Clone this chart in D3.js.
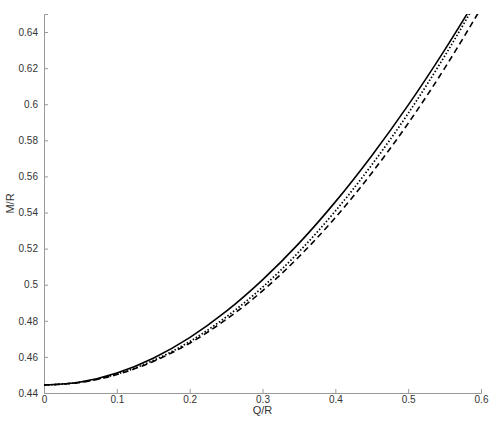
<!DOCTYPE html>
<html>
<head>
<meta charset="utf-8">
<script src="https://cdn.jsdelivr.net/npm/d3@7"></script>
<style>
  body { margin: 0; background: #fff; }
  svg text { font-family: "Liberation Sans", Arial, sans-serif; fill: #333; }
</style>
</head>
<body>
<svg id="chart"></svg>
<script>
let qValues = [0, 0.05, 0.1, 0.15, 0.2, 0.25, 0.3, 0.35, 0.4, 0.45, 0.5, 0.55, 0.6]
let solidValues = [0.4444, 0.4461, 0.4511, 0.4593, 0.4707, 0.4852, 0.5027, 0.5229, 0.5459, 0.5715, 0.5995, 0.6300, 0.6627]
let dottedValues = [0.4444, 0.4460, 0.4505, 0.4580, 0.4685, 0.4821, 0.4986, 0.5182, 0.5408, 0.5664, 0.5949, 0.6266, 0.6612]
let dashedValues = [0.4444, 0.4459, 0.4502, 0.4575, 0.4676, 0.4807, 0.4966, 0.5155, 0.5372, 0.5619, 0.5894, 0.6199, 0.6532]
let xTicks = [0, 0.1, 0.2, 0.3, 0.4, 0.5, 0.6]
let yTicks = [0.44, 0.46, 0.48, 0.5, 0.52, 0.54, 0.56, 0.58, 0.6, 0.62, 0.64]

window.addEventListener('DOMContentLoaded', () => {
  let width = 498
  let height = 425
  let margin = { left: 44, right: 17, top: 14, bottom: 32 }

  let svg = d3.select('#chart')
    .attr('width', width)
    .attr('height', height)

  let x = d3.scaleLinear()
    .domain([0, 0.6])
    .range([margin.left, width - margin.right])

  let y = d3.scaleLinear()
    .domain([0.44, 0.65])
    .range([height - margin.bottom, margin.top])

  svg.append('clipPath')
      .attr('id', 'plot-clip')
    .append('rect')
      .attr('x', margin.left)
      .attr('y', margin.top)
      .attr('width', width - margin.left - margin.right)
      .attr('height', height - margin.top - margin.bottom)

  let xAxis = svg.append('g')
    .attr('transform', `translate(0, ${height - margin.bottom})`)
    .call(d3.axisBottom(x).tickValues(xTicks).tickSize(-4).tickPadding(3).tickFormat(d3.format('')))

  let yAxis = svg.append('g')
    .attr('transform', `translate(${margin.left}, 0)`)
    .call(d3.axisLeft(y).tickValues(yTicks).tickSize(-4).tickPadding(6).tickFormat(d3.format('')))

  ;[xAxis, yAxis].forEach(g => {
    g.select('.domain').attr('stroke', '#999').attr('stroke-width', 1)
    g.selectAll('.tick line').attr('stroke', '#999')
    g.selectAll('.tick text').attr('font-size', 10).attr('fill', '#333')
  })

  svg.append('text')
    .attr('x', (margin.left + width - margin.right) / 2)
    .attr('y', height - 11)
    .attr('text-anchor', 'middle')
    .attr('font-size', 11)
    .text('Q/R')

  svg.append('text')
    .attr('transform', `translate(14, ${(margin.top + height - margin.bottom) / 2}) rotate(-90)`)
    .attr('text-anchor', 'middle')
    .attr('font-size', 11)
    .text('M/R')

  let series = [
    { values: solidValues, dash: null, width: 1.6 },
    { values: dottedValues, dash: '1.5,2', width: 1.7 },
    { values: dashedValues, dash: '6,4', width: 1.6 }
  ]

  let line = d3.line()
    .x(d => x(d[0]))
    .y(d => y(d[1]))
    .curve(d3.curveMonotoneX)

  svg.append('g')
      .attr('clip-path', 'url(#plot-clip)')
    .selectAll('path')
    .data(series)
    .enter()
    .append('path')
      .attr('fill', 'none')
      .attr('stroke', '#000')
      .attr('stroke-width', d => d.width)
      .attr('stroke-dasharray', d => d.dash)
      .attr('d', d => line(qValues.map((q, i) => [q, d.values[i]])))
})
</script>
</body>
</html>
